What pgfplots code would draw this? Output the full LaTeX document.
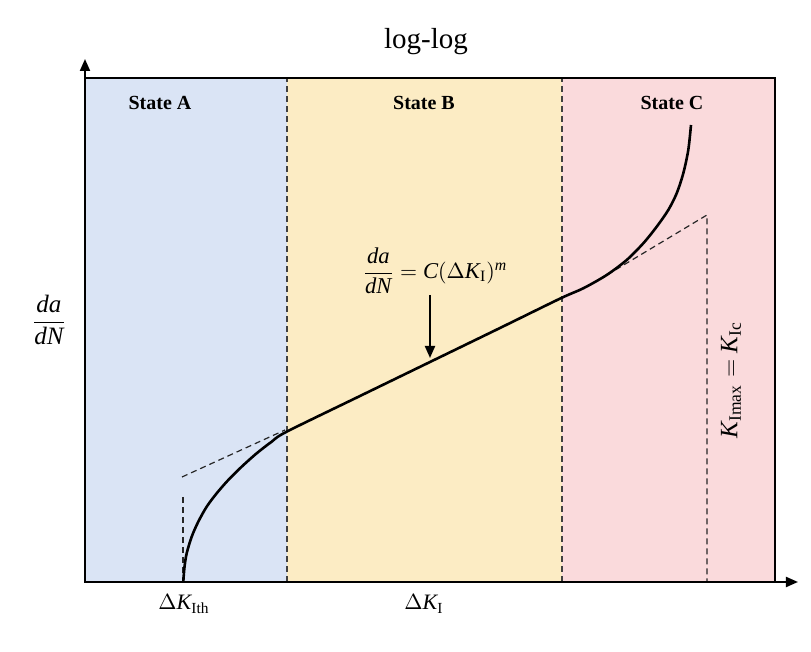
\documentclass[border=0pt]{standalone}
\usepackage{amsmath}
\usepackage{fontspec}
\setmainfont{Liberation Serif}
\usepackage{pgfplots}
\pgfplotsset{compat=1.18}
\usetikzlibrary{arrows.meta}

\definecolor{stateA}{RGB}{218,228,245}
\definecolor{stateB}{RGB}{252,236,196}
\definecolor{stateC}{RGB}{250,218,220}

% crack-growth curve, sampled in plot units
\pgfplotstableread{
x y
183.3 70.3
184.5 85
186.7 98.7
191.7 115.3
198.3 130.3
206.7 145.3
216.7 158.7
228.3 172
241.7 185.3
256.7 198.7
271.7 210.3
286.7 220.3
360 256
430 290
500 324
560.7 353.7
583.3 363.7
606.7 377
626.7 392
643.3 408.7
656.7 425.3
668.3 442
676.7 458.7
683.3 478.7
688.3 502
691 527
}\growth

\begin{document}
\begin{tikzpicture}
\begin{axis}[
  scale only axis, width=345pt, height=252pt,
  xmin=85, xmax=775, ymin=70, ymax=574,
  xtick=\empty, ytick=\empty,
  axis line style={line width=1pt},
  clip=false,
  axis on top,
]
% page extent
\path (axis cs:0,0) rectangle (axis cs:811,652);

% regimes
\addplot[draw=none, fill=stateA] coordinates {(85,70) (287,70) (287,574) (85,574)} -- cycle;
\addplot[draw=none, fill=stateB] coordinates {(287,70) (562,70) (562,574) (287,574)} -- cycle;
\addplot[draw=none, fill=stateC] coordinates {(562,70) (775,70) (775,574) (562,574)} -- cycle;

% regime boundaries
\addplot[black!75, line width=0.6pt, dash pattern=on 3pt off 2pt] coordinates {(287,70) (287,574)};
\addplot[black!75, line width=0.6pt, dash pattern=on 3pt off 2pt] coordinates {(562,70) (562,574)};

% Paris-law asymptotes
\addplot[black!85, line width=0.6pt, dash pattern=on 3pt off 2pt] coordinates {(182,175) (285,222)};
\addplot[black!85, line width=0.6pt, dash pattern=on 3pt off 2pt] coordinates {(183,155) (183,70)};
\addplot[black!85, line width=0.6pt, dash pattern=on 3pt off 2pt] coordinates {(607,377) (707,437) (707,70)};

% growth curve
\addplot[black, line width=1.3pt, smooth, tension=0.5] table {\growth};

% axes with arrows
\draw[line width=1pt, -{Triangle[length=6pt,width=5pt]}] (axis cs:85,70) -- (axis cs:85,593);
\draw[line width=1pt, -{Triangle[length=6pt,width=5pt]}] (axis cs:85,70) -- (axis cs:798,70);

% pointer to the linear regime
\draw[line width=1pt, -{Triangle[length=6pt,width=5pt]}] (axis cs:430,357) -- (axis cs:430,294);

% labels
\node[font=\fontsize{14.5}{17}\selectfont] at (axis cs:426,610) {log-log};
\node[font=\bfseries\fontsize{10}{12}\selectfont] at (axis cs:160,549) {State A};
\node[font=\bfseries\fontsize{10}{12}\selectfont] at (axis cs:424,549) {State B};
\node[font=\bfseries\fontsize{10}{12}\selectfont] at (axis cs:672,549) {State C};

\node[font=\fontsize{11.3}{13}\selectfont] at (axis cs:435,381)
  {$\dfrac{\textit{da}}{\textit{dN}} = \textit{C}(\Delta \textit{K}_{\textup{I}})^{\textit{m}}$};
\node[font=\fontsize{12.5}{14}\selectfont] at (axis cs:49,332)
  {$\dfrac{\textit{da}}{\textit{dN}}$};
\node[font=\fontsize{11}{13}\selectfont] at (axis cs:184,48)
  {$\Delta \textit{K}_{\textup{Ith}}$};
\node[font=\fontsize{11}{13}\selectfont] at (axis cs:424,48)
  {$\Delta \textit{K}_{\textup{I}}$};
\node[rotate=90, font=\fontsize{12.5}{14}\selectfont] at (axis cs:731,272)
  {$\textit{K}_{\textup{Imax}} = \textit{K}_{\textup{Ic}}$};
\end{axis}
\end{tikzpicture}
\end{document}
